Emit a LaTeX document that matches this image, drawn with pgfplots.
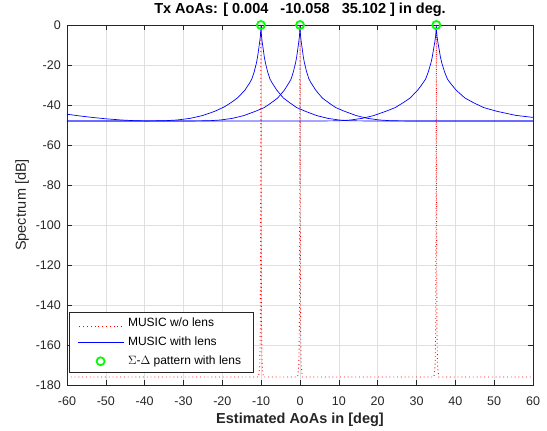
\documentclass[border=0pt]{standalone}
\usepackage{pgfplots}
\pgfplotsset{compat=1.18}
\usepackage{fontspec}
\setmainfont{Liberation Sans}
\definecolor{mgrid}{RGB}{223,223,223}
\definecolor{maxis}{RGB}{38,38,38}
\definecolor{mblue}{RGB}{0,0,255}
\definecolor{mred}{RGB}{255,0,0}
\definecolor{mgreen}{RGB}{0,255,0}
\newcommand{\reddots}{\textcolor{mred}{\leaders\hbox to 3.8pt{\hss\rule[-0.45pt]{0.9pt}{0.9pt}\hss}\hskip 46pt}}
\pgfplotsset{
  redleg/.style={legend image code/.code={\node[inner sep=0pt, anchor=west, text=mred] at (0pt,0pt) {\reddots};}},
  blueleg/.style={legend image code/.code={\draw[draw=mblue, color=mblue, line width=0.7pt] (0pt,0pt) -- (46pt,0pt);}},
  markleg/.style={legend image code/.code={\draw[draw=mgreen, color=mgreen, line width=1.8pt] (23pt,0pt) circle[radius=4pt];}},
}
\begin{document}
\begin{tikzpicture}[x=1pt,y=1pt]
\useasboundingbox (0,0) rectangle (547,431);
\begin{axis}[
  at={(67pt,46pt)}, anchor=south west,
  width=466pt, height=360pt, scale only axis,
  xmin=-60, xmax=60, ymin=-180, ymax=0,
  clip=false,
  xtick={-60,-50,-40,-30,-20,-10,0,10,20,30,40,50,60},
  xticklabels={-60,-50,-40,-30,-20,-10,0,10,20,30,40,50,60},
  ytick={-180,-160,-140,-120,-100,-80,-60,-40,-20,0},
  yticklabels={-180,-160,-140,-120,-100,-80,-60,-40,-20,0},
  grid=major, major grid style={mgrid, line width=0.6pt},
  tick align=inside, major tick length=5pt,
  xtick pos=both, ytick pos=both,
  axis line style={maxis, line width=0.6pt},
  tick style={maxis, line width=0.6pt},
  ticklabel style={font=\fontsize{12.5}{14}\selectfont, text=maxis},
  xticklabel style={anchor=base, yshift=-20.7pt},
  yticklabel style={anchor=east, inner xsep=0pt, xshift=-6pt},
  title={Tx AoAs: [ 0.004~~~-10.058~~~35.102 ] in deg.},
  title style={font=\fontsize{14.5}{16}\selectfont\bfseries, text=black, at={(axis description cs:0.5,1.0153)}, anchor=base},
  xlabel={Estimated AoAs in [deg]},
  xlabel style={font=\fontsize{14.5}{16}\selectfont\bfseries, text=maxis, at={(axis description cs:0.5,-0.1056)}, anchor=base},
  ylabel={Spectrum [dB]},
  ylabel style={font=\fontsize{14.5}{16}\selectfont, text=maxis, at={(axis description cs:-0.0965,0.5)}, anchor=center},
  legend cell align=left,
  legend style={at={(axis cs:-59.5,-143.5)}, anchor=north west, draw=maxis, line width=0.6pt, fill=white,
    font=\fontsize{12}{14}\selectfont, inner xsep=8pt, inner ysep=6pt, row sep=7.6pt,
    nodes={inner xsep=4pt, inner ysep=0pt, text height=8.6pt, text depth=2.5pt}},
]
% MUSIC w/o lens
\addplot[mred, line width=0.9pt, dash pattern=on 0.9pt off 2.9pt, redleg] coordinates {
(-60,-176) (-10.66,-176) (-10.36,-170) (-10.21,-150) (-10.11,-80) (-10.058,0) (-10.01,-80) (-9.91,-150) (-9.76,-170) (-9.46,-176)
(-0.6,-176) (-0.3,-170) (-0.15,-150) (-0.05,-80) (0.004,0) (0.05,-80) (0.15,-150) (0.3,-170) (0.6,-176)
(34.5,-176) (34.8,-170) (34.95,-150) (35.05,-80) (35.102,0) (35.15,-80) (35.25,-150) (35.4,-170) (35.7,-176) (60,-176)
};
\addlegendentry{MUSIC w/o lens}
% MUSIC with lens: source at 0
\addplot[mblue, line width=0.7pt, blueleg] coordinates {
(-60,-48.0) (-30,-48.0) (-23.58,-47.9) (-20.49,-47.5) (-17.46,-46.7) (-14.48,-45.3) (-11.54,-43.2) (-9.21,-41.3) (-7.47,-39) (-5.74,-36.5) (-4.01,-32.5) (-2.87,-29) (-2.29,-27) (-1.72,-23.5) (-1.15,-19) (-0.86,-16) (-0.57,-12) (-0.29,-8) (-0.14,-5.5) (-0.05,-3) (0.004,0)
(0.06,-3) (0.15,-5.5) (0.29,-8) (0.58,-12) (0.86,-16) (1.15,-19) (1.72,-23.5) (2.30,-27) (2.87,-29) (4.02,-32.5) (5.74,-36.5) (7.47,-39) (9.21,-41.3) (11.54,-43.2) (14.48,-45.3) (17.46,-46.7) (20.49,-47.5) (23.58,-47.9) (30,-48.0) (60,-48.0)
};
\addlegendentry{MUSIC with lens}
% source at -10.058
\addplot[mblue, line width=0.7pt, forget plot] coordinates {
(-60,-48.0) (-42.43,-48.0) (-35.08,-47.9) (-31.65,-47.5) (-28.34,-46.7) (-25.13,-45.3) (-22.00,-43.2) (-19.55,-41.0) (-17.74,-38.8) (-15.94,-36.2) (-14.16,-32.5) (-12.98,-29) (-12.40,-27) (-11.81,-23.5) (-11.22,-19) (-10.93,-16) (-10.64,-12) (-10.35,-8) (-10.20,-5.5) (-10.12,-3) (-10.058,0)
(-10.00,-3) (-9.91,-5.5) (-9.77,-8) (-9.48,-12) (-9.19,-16) (-8.90,-19) (-8.32,-23.5) (-7.74,-27) (-7.16,-29) (-6.01,-32.5) (-4.28,-36.5) (-2.56,-39) (-0.84,-41.3) (1.45,-43.2) (4.32,-45.3) (7.20,-46.7) (10.10,-47.5) (13.02,-47.9) (18.99,-48.0) (60,-48.0)
};
% source at 35.102
\addplot[mblue, line width=0.7pt, forget plot] coordinates {
(-60,-44.6) (-57,-45.4) (-54,-46.1) (-50,-46.9) (-46,-47.5) (-42,-47.9) (-38,-48.0) (4.30,-48.0) (10.08,-47.9) (13.01,-47.5) (15.96,-46.7) (18.97,-45.3) (22.03,-43.2) (24.52,-41.3) (26.43,-39) (28.36,-36.5) (30.33,-32.5) (31.67,-29) (32.35,-27) (33.03,-23.5) (33.71,-19) (34.06,-16) (34.40,-12) (34.75,-8) (34.93,-5.5) (35.03,-3) (35.102,0)
(35.17,-3) (35.28,-5.5) (35.45,-8) (35.81,-12) (36.16,-16) (36.52,-19) (37.23,-23.5) (37.95,-27) (38.69,-29) (40.17,-32.5) (42.46,-36.5) (44.83,-39) (47.31,-41.3) (50.81,-43.2) (55.59,-45.2) (60,-46.2)
};
% Sigma-Delta pattern with lens
\addplot[only marks, mark=o, mark size=4pt, mgreen, line width=1.8pt, markleg] coordinates {
(0.004,0) (-10.058,0) (35.102,0)
};
\addlegendentry{$\Sigma$-$\Delta$ pattern with lens\hspace{6pt}}
\end{axis}
\end{tikzpicture}
\end{document}
